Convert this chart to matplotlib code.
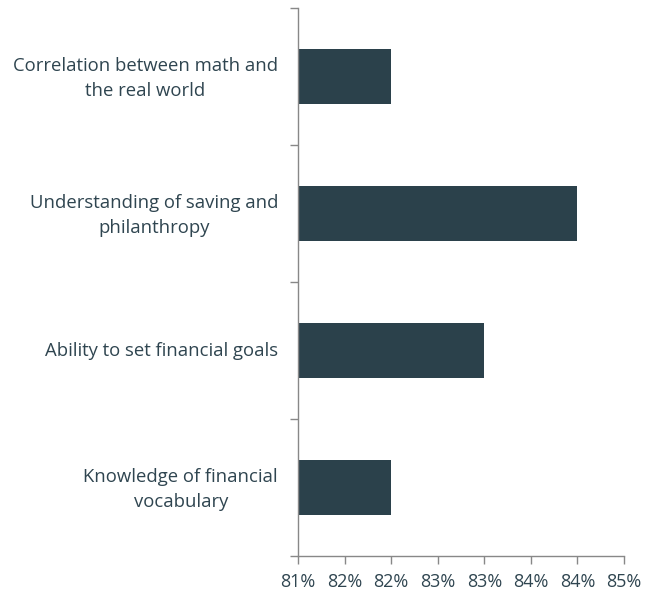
import matplotlib.pyplot as plt
from matplotlib.ticker import FuncFormatter, MultipleLocator, FixedLocator
from matplotlib.transforms import ScaledTranslation

categories = [
    "Correlation between math and\nthe real world",
    "Understanding of saving and\nphilanthropy",
    "Ability to set financial goals",
    "Knowledge of financial\nvocabulary",
]
values = [0.82, 0.84, 0.83, 0.82]

bar_color = "#2b414b"
text_color = "#2f4550"
axis_color = "#888888"

plt.rcParams["font.family"] = ["Open Sans", "DejaVu Sans"]

fig = plt.figure(figsize=(6.53, 5.94), dpi=100)
ax = fig.add_axes([298 / 653, 1 - 556 / 594, (624 - 298) / 653, (556 - 8) / 594])

n = len(categories)
pos = list(range(n))
ax.barh(pos, values, height=0.4, color=bar_color)

ax.set_xlim(0.81, 0.845)
ax.set_ylim(n - 0.5, -0.5)

# x ticks every half percent, labels rounded to whole percent
ax.xaxis.set_major_locator(MultipleLocator(0.005))
ax.xaxis.set_major_formatter(FuncFormatter(lambda v, p: f"{int(v * 100 + 0.5 + 1e-9)}%"))
ax.tick_params(axis="x", which="major", length=6, width=1, color=axis_color,
               labelsize=13, labelcolor=text_color, pad=6)

# category boundary marks only; labels drawn as text right-aligned next to the axis
ax.yaxis.set_major_locator(FixedLocator([i - 0.5 for i in range(n + 1)]))
ax.set_yticklabels([])
ax.tick_params(axis="y", which="major", length=6, width=1, color=axis_color)

for y, label in zip(pos, categories):
    dy = -2 if "\n" in label else -1
    tr = ax.get_yaxis_transform() + ScaledTranslation(-0.20, dy / 100, fig.dpi_scale_trans)
    ax.text(0, y, label, transform=tr, ha="right", va="center", multialignment="center",
            linespacing=1.5, fontsize=13.3, color=text_color)

for side in ["top", "right"]:
    ax.spines[side].set_visible(False)
for side in ["left", "bottom"]:
    ax.spines[side].set_color(axis_color)
    ax.spines[side].set_linewidth(1)

fig.savefig("out.png", dpi=100)
